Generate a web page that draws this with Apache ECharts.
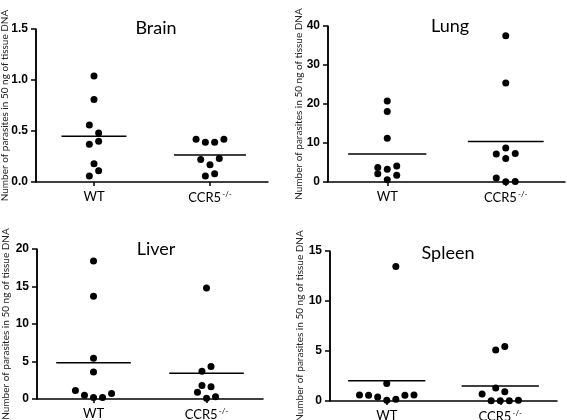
<!DOCTYPE html>
<html><head><meta charset="utf-8">
<script src="https://cdn.jsdelivr.net/npm/echarts@6/dist/echarts.min.js"></script>
<style>html,body{margin:0;padding:0;background:#fff}#c{width:567px;height:420px}</style>
</head><body><div id="c"></div>
<script>
const groups = ['WT', 'CCR5-/-'];
const yAxisName = 'Number of parasites in 50 ng of tissue DNA';

// Brain
const brainWT  = [1.04, 0.81, 0.56, 0.48, 0.37, 0.40, 0.18, 0.11, 0.06];
const brainWTx = [1, 1, 0.96, 1.04, 0.96, 1.04, 1, 1.04, 0.96];
const brainKO  = [0.42, 0.39, 0.39, 0.42, 0.22, 0.17, 0.23, 0.06, 0.08];
const brainKOx = [1.88, 1.96, 2.04, 2.12, 1.92, 2.0, 2.08, 1.96, 2.04];
const brainMean = [0.448, 0.265];
const brainTicks = { max: 1.5, interval: 0.5, decimals: 1 };

// Lung
const lungWT  = [20.8, 18.1, 11.2, 3.7, 3.3, 4.1, 2.1, 1.7, 0.6];
const lungWTx = [1, 1, 1, 0.92, 1, 1.08, 0.92, 1.08, 1];
const lungKO  = [37.5, 25.4, 8.7, 7.2, 7.3, 6.0, 1.0, 0.05, 0.1];
const lungKOx = [2, 2, 2, 1.92, 2.08, 2, 1.92, 2, 2.08];
const lungMean = [7.2, 10.4];
const lungTicks = { max: 40, interval: 10, decimals: 0 };

// Liver
const liverWT  = [18.4, 13.7, 5.45, 3.6, 1.15, 0.5, 0.2, 0.2, 0.75];
const liverWTx = [1, 1, 1, 1, 0.84, 0.92, 1, 1.08, 1.16];
const liverKO  = [14.8, 4.35, 3.7, 1.8, 1.65, 0.9, 0.1, 0.3];
const liverKOx = [2, 2.04, 1.96, 1.96, 2.04, 1.92, 2, 2.08];
const liverMean = [4.85, 3.42];
const liverTicks = { max: 20, interval: 5, decimals: 0 };

// Spleen
const spleenWT  = [13.45, 1.75, 0.6, 0.57, 0.4, 0.07, 0.17, 0.57, 0.6];
const spleenWTx = [1.08, 1, 0.76, 0.84, 0.92, 1, 1.08, 1.16, 1.24];
const spleenKO  = [5.1, 5.45, 0.7, 1.3, 0.93, 0.03, 0.03, 0.03, 0.07];
const spleenKOx = [1.96, 2.04, 1.84, 1.96, 2.04, 1.92, 2.0, 2.08, 2.16];
const spleenMean = [2.03, 1.5];
const spleenTicks = { max: 15, interval: 5, decimals: 0 };

const panels = [
  { title: 'Brain',  wt: brainWT,  wtx: brainWTx,  ko: brainKO,  kox: brainKOx,  mean: brainMean,  ticks: brainTicks,
    grid: { left: 36, top: 29, width: 232, height: 153 }, tpos: { x: 151, y: 23 }, half: [0.28, 0.31], nameGap: 26 },
  { title: 'Lung',   wt: lungWT,   wtx: lungWTx,   ko: lungKO,   kox: lungKOx,   mean: lungMean,   ticks: lungTicks,
    grid: { left: 328, top: 26, width: 237, height: 156 }, tpos: { x: 445, y: 21 }, half: [0.33, 0.32], nameGap: 24 },
  { title: 'Liver',  wt: liverWT,  wtx: liverWTx,  ko: liverKO,  kox: liverKOx,  mean: liverMean,  ticks: liverTicks,
    grid: { left: 37, top: 249, width: 226, height: 150 }, tpos: { x: 151, y: 244 }, half: [0.33, 0.33], nameGap: 26 },
  { title: 'Spleen', wt: spleenWT, wtx: spleenWTx, ko: spleenKO, kox: spleenKOx, mean: spleenMean, ticks: spleenTicks,
    grid: { left: 330, top: 251, width: 227, height: 150 }, tpos: { x: 443, y: 248 }, half: [0.34, 0.34], nameGap: 25 }
];

const option = { animation: false, backgroundColor: '#fff', title: [], grid: [], xAxis: [], yAxis: [], series: [] };

function fmtNum(v, d) {
  const n = Number(typeof v === 'object' && v !== null ? v.value : v);
  return isNaN(n) ? String(v) : n.toFixed(d);
}

panels.forEach((p, i) => {
  option.title.push({
    text: p.title, left: p.tpos.x, top: p.tpos.y, textAlign: 'center', textVerticalAlign: 'middle',
    textStyle: { fontFamily: 'Lato', fontSize: 18, fontWeight: 'normal', color: '#000' }
  });
  option.grid.push(Object.assign({ containLabel: false, outerBoundsMode: 'none' }, p.grid));
  option.xAxis.push({
    type: 'category', gridIndex: i, data: groups, boundaryGap: true,
    axisLine: { show: true, onZero: false, lineStyle: { color: '#000', width: 1.5 } },
    axisTick: { show: true, alignWithLabel: true, length: 4, lineStyle: { color: '#000', width: 1.5 } },
    axisLabel: {
      margin: 8, color: '#000', fontFamily: 'Lato', fontSize: 13,
      formatter: v => String(v) === 'CCR5-/-' ? 'CCR5{sup|-/-}' : String(v),
      rich: { sup: { fontSize: 8, verticalAlign: 'top', padding: [0, 0, 7, 1], fontFamily: 'Lato', color: '#000' } }
    }
  });
  option.xAxis.push({ type: 'value', gridIndex: i, min: 0.5, max: 2.5, show: false });
  // y axis A: tick labels only
  option.yAxis.push({
    type: 'value', gridIndex: i, position: 'left', min: 0, max: p.ticks.max, interval: p.ticks.interval,
    axisLine: { show: false }, axisTick: { show: false }, splitLine: { show: false },
    axisLabel: { margin: 8, color: '#000', fontFamily: 'Liberation Sans', fontWeight: 'bold', fontSize: 12,
      formatter: v => fmtNum(v, p.ticks.decimals) }
  });
  // y axis B: line, ticks and name
  option.yAxis.push({
    type: 'value', gridIndex: i, position: 'left', offset: 0, min: 0, max: p.ticks.max, interval: p.ticks.interval,
    name: yAxisName, nameLocation: 'middle', nameGap: p.nameGap, nameRotate: 90,
    nameTextStyle: { fontFamily: 'Lato', fontSize: 10, color: '#222' },
    axisLine: { show: true, onZero: false, lineStyle: { color: '#000', width: 1.5 } },
    axisTick: { show: true, length: 5, lineStyle: { color: '#000', width: 1.5 } },
    axisLabel: { show: false },
    splitLine: { show: false }
  });
  const vx = i * 2 + 1;
  const vy = i * 2;
  const dot = { type: 'scatter', xAxisIndex: vx, yAxisIndex: vy, symbolSize: 7, itemStyle: { color: '#000', opacity: 1 }, z: 3 };
  // first series also carries a vertical rule at the x-axis minimum (left edge of the plot) as the y-axis line
  option.series.push(Object.assign({}, dot, {
    clip: false,
    data: p.wt.map((v, k) => [p.wtx[k], v]),
    markLine: {
      silent: true, symbol: ['none', 'none'], label: { show: false }, animation: false,
      lineStyle: { color: '#000', width: 1.5, type: 'solid', opacity: 1 },
      emphasis: { disabled: true },
      data: [{ xAxis: 0.5 }]
    }
  }));
  option.series.push(Object.assign({}, dot, { data: p.ko.map((v, k) => [p.kox[k], v]) }));
  [1, 2].forEach((c, g) => {
    option.series.push({
      type: 'line', xAxisIndex: vx, yAxisIndex: vy, symbol: 'none',
      lineStyle: { color: '#000', width: 1.5 },
      data: [[c - p.half[g], p.mean[g]], [c + p.half[g], p.mean[g]]]
    });
  });
});

const chart = echarts.init(document.getElementById('c'), null, { renderer: 'canvas' });
chart.setOption(option);
</script>
</body></html>
